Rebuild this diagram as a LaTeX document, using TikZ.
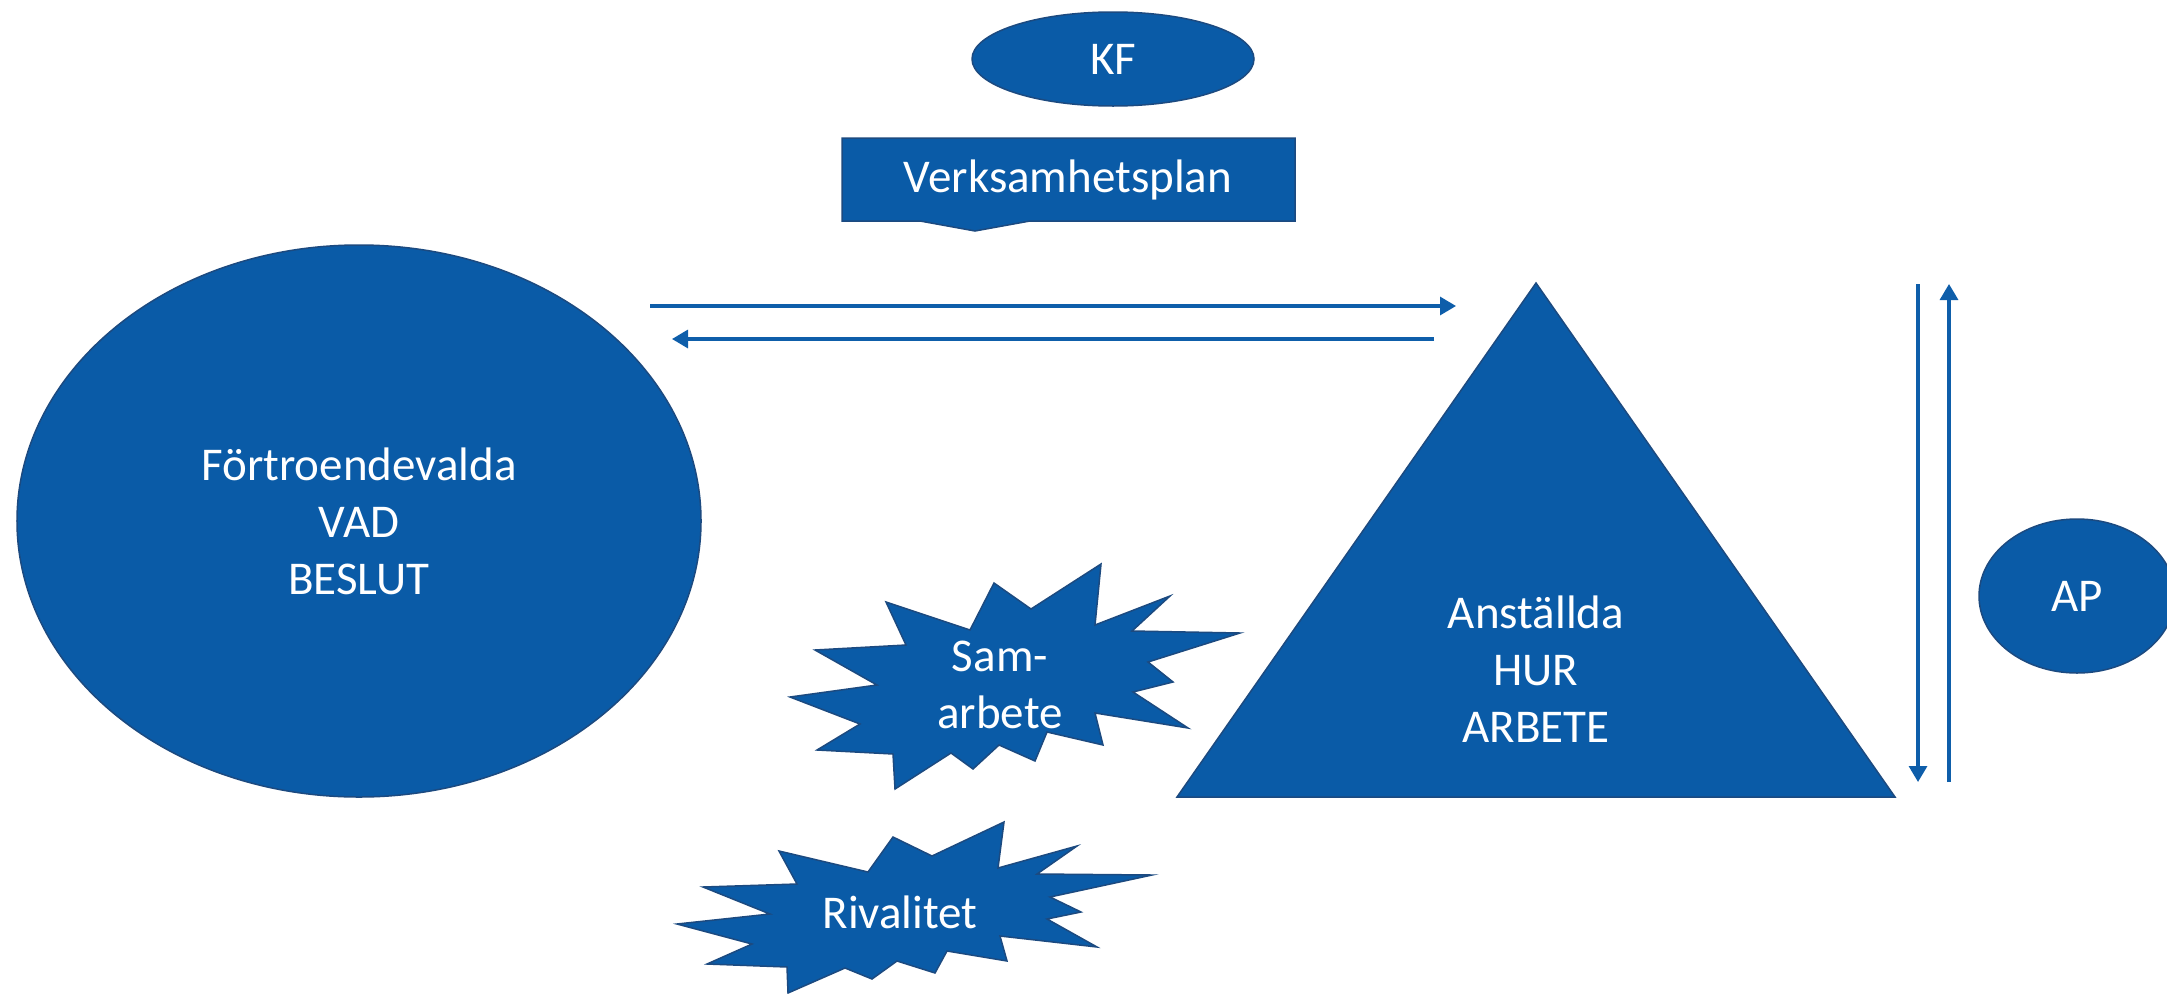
\documentclass[tikz,border=0pt]{standalone}
\usepackage{fontspec}
\setmainfont{Carlito}
\usetikzlibrary{arrows.meta,shapes.geometric}
\definecolor{fillblue}{RGB}{10,91,167}
\definecolor{edgeblue}{RGB}{28,74,128}
\definecolor{lineblue}{RGB}{14,94,170}
\begin{document}
\begin{tikzpicture}[x=1bp,y=-1bp,
  shapebox/.style={fill=fillblue,draw=edgeblue,line width=1.5bp},
  lbl/.style={text=white,font=\fontsize{47bp}{57bp}\selectfont,align=center,inner sep=0pt},
  flow/.style={draw=lineblue,line width=3.2bp,-{Triangle[length=16bp,width=18bp]}}]
\useasboundingbox (0,0) rectangle (2167,993);
\fill[white] (0,0) rectangle (2167,993);

% KF
\node[ellipse,shapebox,lbl,minimum width=282bp,minimum height=94bp] (kf) at (1113,59) {KF};

% Verksamhetsplan banner
\draw[shapebox] (842,138) -- (1295,138) -- (1295,221) -- (1030,221) -- (975,231) -- (920,221) -- (842,221) -- cycle;
\node[lbl] (vp) at (1068,180) {Verksamhetsplan};

% Big ellipse
\node[ellipse,shapebox,lbl,minimum width=684bp,minimum height=552bp] (fv) at (359,521) {Förtroendevalda\\VAD\\BESLUT};

% Triangle
\coordinate (tA) at (1536,283);
\coordinate (tL) at (1177,797);
\coordinate (tR) at (1895,797);
\draw[shapebox] (tA) -- (tR) -- (tL) -- cycle;
\node[lbl] (an) at (1536,669) {Anställda\\HUR\\ARBETE};

% AP
\node[ellipse,shapebox,lbl,minimum width=196bp,minimum height=154bp] (ap) at (2077,596) {AP};

% Samarbete starburst
\draw[shapebox] (886,602) -- (906,645) -- (815,650) -- (877,685) -- (790,697) -- (860,724) -- (817,750) -- (893,754) -- (895,789) -- (951,753) -- (973,769) -- (999,745) -- (1035,761) -- (1047,732) -- (1103,745) -- (1095,713) -- (1188,728) -- (1133,692) -- (1173,682) -- (1148,662) -- (1240,633) -- (1132,631) -- (1170,596) -- (1095,625) -- (1101,564) -- (1031,609) -- (994,583) -- (970,630) -- cycle;
\node[lbl,text depth=0pt] (sa) at (1000,685) {Sam-\\arbete};

% Rivalitet starburst
\draw[shapebox] (779,851) -- (797,884) -- (703,887) -- (770,914) -- (677,924) -- (752,944) -- (707,964) -- (787,967) -- (788,993) -- (845,968) -- (872,979) -- (897,961) -- (935,973) -- (947,951) -- (1007,961) -- (1000,936) -- (1097,947) -- (1047,919) -- (1081,912) -- (1050,897) -- (1152,875) -- (1037,874) -- (1077,846) -- (998,868) -- (1004,822) -- (932,856) -- (893,837) -- (868,872) -- cycle;
\node[lbl] (ri) at (900,912) {Rivalitet};

% horizontal arrows
\coordinate (h1s) at (650,306);
\coordinate (h1e) at (1456,306);
\coordinate (h2s) at (1434,339);
\coordinate (h2e) at (672,339);
\draw[flow] (h1s) -- (h1e);
\draw[flow] (h2s) -- (h2e);

% vertical arrows
\coordinate (v1s) at (1918,284);
\coordinate (v1e) at (1918,782);
\coordinate (v2s) at (1949,782);
\coordinate (v2e) at (1949,284);
\draw[flow] (v1s) -- (v1e);
\draw[flow] (v2s) -- (v2e);
\end{tikzpicture}
\end{document}
